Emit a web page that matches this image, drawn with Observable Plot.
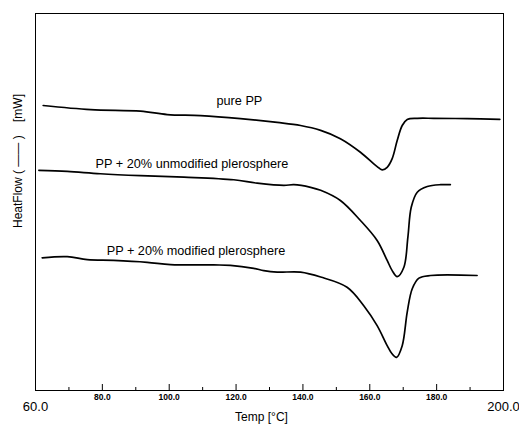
<!DOCTYPE html>
<html>
<head>
<meta charset="utf-8">
<script src="https://cdn.jsdelivr.net/npm/d3@7"></script>
<script src="https://cdn.jsdelivr.net/npm/@observablehq/plot@0.6"></script>
<style>
  html, body { margin: 0; padding: 0; background: #fff; }
  #chart { width: 519px; height: 431px; }
</style>
</head>
<body>
<div id="chart"></div>
<script>
// Temperature (°C) and heat flow (arbitrary mW units, 0 = bottom of frame, 100 = top)
const pureT = [62.3, 76.5, 91.4, 99.4, 109.4, 121.3, 132.3, 139.3, 145.3, 151.2, 157.2, 161.2, 162.2, 163.7, 165.2, 166.7, 168.2, 169.7, 171.2, 174.2, 179.1, 189.1, 198.9];
const pureHF = [75.6, 74.5, 74.1, 73.2, 72.9, 72.1, 71.1, 70.3, 69.0, 66.8, 63.2, 60.1, 59.4, 58.5, 59.2, 61.5, 66.3, 70.3, 71.9, 72.2, 72.2, 72.1, 71.9];

const unmodT = [61.0, 69.5, 79.4, 91.4, 104.4, 119.3, 126.3, 134.3, 137.3, 142.3, 145.3, 151.2, 157.2, 162.2, 165.2, 166.7, 168.2, 170.2, 171.4, 172.4, 174.2, 177.2, 181.2, 184.1];
const unmodHF = [58.4, 58.1, 57.5, 57.0, 56.6, 55.9, 55.0, 54.4, 54.6, 53.9, 53.1, 50.4, 45.1, 39.8, 34.5, 31.8, 30.2, 32.7, 40.7, 48.6, 52.6, 54.1, 54.6, 54.6];

const modT = [62.0, 69.5, 75.5, 83.4, 93.4, 100.4, 113.3, 118.3, 125.3, 128.3, 132.3, 139.3, 145.3, 153.2, 158.2, 162.2, 165.2, 166.6, 168.0, 169.7, 171.2, 172.7, 174.7, 178.2, 192.1];
const modHF = [35.2, 35.5, 34.7, 34.5, 34.0, 33.4, 33.3, 33.2, 32.4, 31.8, 31.4, 31.4, 30.1, 27.4, 22.5, 17.2, 11.9, 9.8, 8.8, 11.9, 20.8, 27.0, 29.8, 30.5, 30.5];

const labelNames = ["pure PP", "PP + 20% unmodified plerosphere", "PP + 20% modified plerosphere"];
const labelT = [121.0, 106.8, 108.0];
const labelHF = [76.9, 60.2, 37.1];

const majorTicks = [80, 100, 120, 140, 160, 180];
const minorTicks = [70, 90, 110, 130, 150, 170, 190];
const innerTickLabels = [80, 100, 120, 140, 160, 180];
const edgeTickLabels = [60, 200];

const xLabel = "Temp [°C]";
const yLabel = "HeatFlow (\u00A0\u2014\u2014\u00A0)\u00A0\u00A0\u00A0\u00A0[mW]";

const toRows = (T, HF) => T.map((t, i) => ({t, hf: HF[i]}));
const curves = [toRows(pureT, pureHF), toRows(unmodT, unmodHF), toRows(modT, modHF)];
const labels = labelNames.map((name, i) => ({name, t: labelT[i], hf: labelHF[i]}));

const font = "'Liberation Sans', Arial, Helvetica, sans-serif";

const chart = Plot.plot({
  width: 519,
  height: 431,
  marginLeft: 35,
  marginRight: 16,
  marginTop: 13,
  marginBottom: 41,
  style: {fontFamily: font, background: "#fff", color: "#000"},
  x: {domain: [60, 200]},
  y: {domain: [0, 100], axis: null},
  marks: [
    Plot.frame({stroke: "#000", strokeWidth: 1}),
    Plot.axisX({ticks: majorTicks, tickSize: -6, tickFormat: () => "", label: null, stroke: "#000"}),
    Plot.axisX({ticks: minorTicks, tickSize: -3, tickFormat: () => "", label: null, stroke: "#000"}),
    Plot.axisX({ticks: innerTickLabels, tickSize: 0, tickPadding: 3, tickFormat: d => d.toFixed(1), label: null, fontSize: 8.5, fontWeight: "bold", fill: "#000"}),
    Plot.axisX({ticks: edgeTickLabels, tickSize: 0, tickPadding: 11, tickFormat: d => d.toFixed(1), label: null, fontSize: 13, fill: "#000"}),
    ...curves.map(rows => Plot.line(rows, {x: "t", y: "hf", curve: "catmull-rom", stroke: "#000", strokeWidth: 1.7})),
    Plot.text(labels, {x: "t", y: "hf", text: "name", fontSize: 12.7, fill: "#000"}),
    Plot.text([xLabel], {frameAnchor: "bottom", dy: 30, dx: -8, fontSize: 12, fill: "#000"}),
    Plot.text([yLabel], {frameAnchor: "left", rotate: -90, dx: -17, dy: 26, fontSize: 12, fill: "#000"})
  ]
});
document.getElementById("chart").appendChild(chart);
</script>
</body>
</html>
